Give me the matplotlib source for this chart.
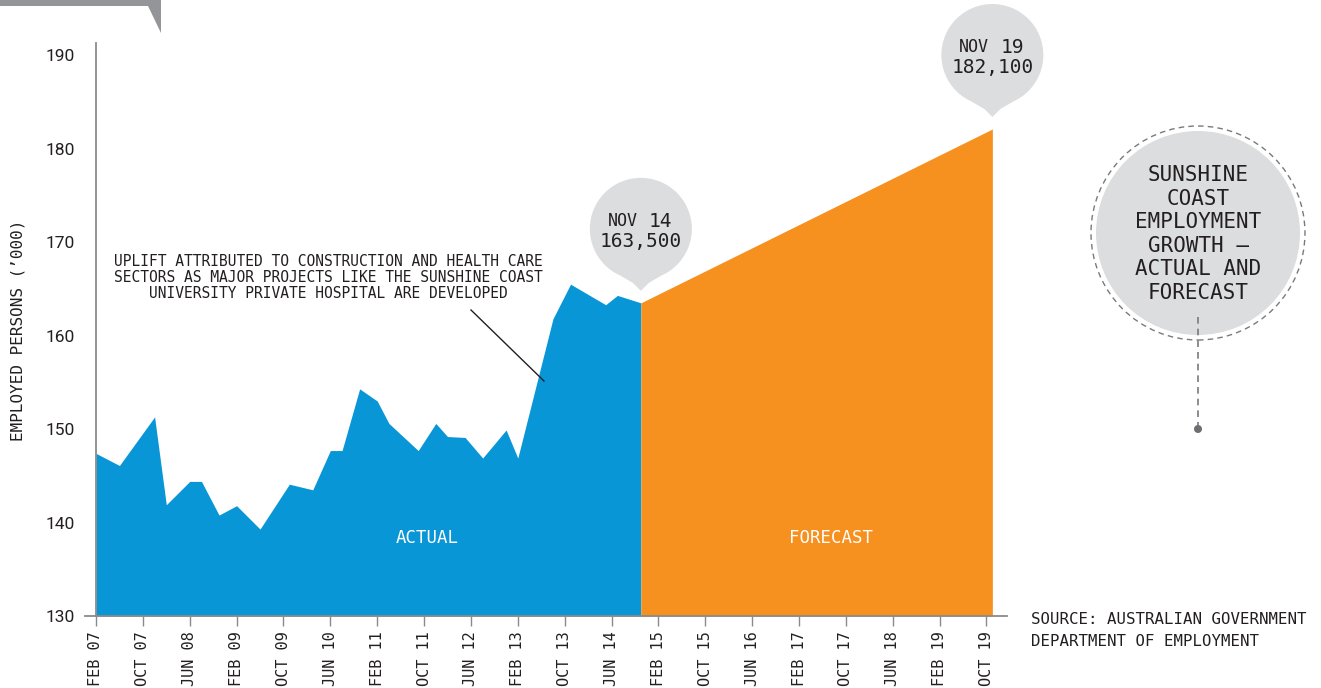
import matplotlib
matplotlib.use("Agg")
import matplotlib.pyplot as plt
from matplotlib.patches import Circle, Polygon
from matplotlib.lines import Line2D
from matplotlib.transforms import IdentityTransform

# months counted from Feb 2007, values in '000 employed persons
actual_months = [0, 4, 10, 12, 16, 18, 21, 24, 28, 33, 37, 40, 42, 45, 48, 50,
                 55, 58, 60, 63, 66, 70, 72, 78, 81, 87, 89, 93]
actual_values = [147.4, 146.1, 151.3, 141.9, 144.4, 144.4, 140.8, 141.8, 139.3,
                 144.1, 143.5, 147.7, 147.7, 154.3, 153.0, 150.6, 147.7, 150.6,
                 149.2, 149.1, 146.9, 149.9, 146.9, 161.8, 165.5, 163.3, 164.3,
                 163.5]
forecast_months = [93, 153]
forecast_values = [163.5, 182.1]

tick_months = list(range(0, 153, 8))
tick_labels = ["FEB 07", "OCT 07", "JUN 08", "FEB 09", "OCT 09", "JUN 10",
               "FEB 11", "OCT 11", "JUN 12", "FEB 13", "OCT 13", "JUN 14",
               "FEB 15", "OCT 15", "JUN 16", "FEB 17", "OCT 17", "JUN 18",
               "FEB 19", "OCT 19"]
y_ticks = [130, 140, 150, 160, 170, 180, 190]

note_lines = ["UPLIFT ATTRIBUTED TO CONSTRUCTION AND HEALTH CARE",
              "SECTORS AS MAJOR PROJECTS LIKE THE SUNSHINE COAST",
              "UNIVERSITY PRIVATE HOSPITAL ARE DEVELOPED"]
title_lines = ["SUNSHINE", "COAST", "EMPLOYMENT", "GROWTH \u2013",
               "ACTUAL AND", "FORECAST"]
source_lines = ["SOURCE: AUSTRALIAN GOVERNMENT", "DEPARTMENT OF EMPLOYMENT"]

BLUE = "#0996d6"
ORANGE = "#f6901e"
BUBBLE = "#dcddde"
AXIS = "#8a8a8a"
INK = "#231f20"
MONO = "DejaVu Sans Mono"

W, H = 1321, 688
PX = IdentityTransform()

fig = plt.figure(figsize=(W / 100, H / 100), dpi=100)
ax = fig.add_axes([96 / W, 72 / H, 911 / W, 573 / H])

ax.fill_between(actual_months, actual_values, 130, color=BLUE, lw=0)
ax.fill_between(forecast_months, forecast_values, 130, color=ORANGE, lw=0)

ax.set_xlim(0, 155.5)
ax.set_ylim(130, 191.3)

for s in ["top", "right"]:
    ax.spines[s].set_visible(False)
for s in ["left", "bottom"]:
    ax.spines[s].set_color(AXIS)
    ax.spines[s].set_linewidth(1.3)
ax.plot([-1.8, 0], [130, 130], color=AXIS, lw=1.3, clip_on=False)

ax.set_xticks(tick_months)
ax.set_xticklabels(tick_labels, rotation=90, fontsize=11, family=MONO, color=INK)
ax.set_yticks(y_ticks)
ax.set_yticklabels([str(v) for v in y_ticks], fontsize=12.5, family="Roboto",
                   color=INK)
ax.tick_params(axis="x", length=7, width=1, color=AXIS, pad=4)
ax.tick_params(axis="y", length=0, pad=15)

fig.text(18 / W, 1 - 330 / H, "EMPLOYED PERSONS (\u2019000)", rotation=90,
         ha="center", va="center", fontsize=11.5, family=MONO, color=INK)

# area labels
ax.text(56.5, 138.3, "ACTUAL", color="white", fontsize=12.5, family=MONO,
        ha="center", va="center")
ax.text(125.5, 138.3, "FORECAST", color="white", fontsize=12.5, family=MONO,
        ha="center", va="center")

# note with leader line
for i, line in enumerate(note_lines):
    fig.text(328, H - 261 - 16 * i, line, transform=PX, ha="center", va="center",
             fontsize=10.5, family=MONO, color=INK)
fig.add_artist(Line2D([471, 544], [H - 310, H - 381], transform=PX,
                      color=INK, lw=1))


def bubble(month, value, mon, yr, amount):
    tx, ty = ax.transData.transform((month, value))
    ty += 12
    cx, cy, r = tx, ty + 62, 51
    fig.add_artist(Circle((cx, cy), r, transform=PX, fc=BUBBLE, ec="none"))
    fig.add_artist(Polygon([(cx - 20, cy - 47), (cx - 8, cy - 54), (tx, ty),
                            (cx + 8, cy - 54), (cx + 20, cy - 47)],
                           closed=True, transform=PX, fc=BUBBLE, ec="none"))
    fig.text(cx - 3, cy + 7.5, mon, transform=PX, ha="right", va="center",
             fontsize=12, family=MONO, color=INK)
    fig.text(cx + 8, cy + 7.5, yr, transform=PX, ha="left", va="center",
             fontsize=14, family=MONO, color=INK)
    fig.text(cx, cy - 12.5, amount, transform=PX, ha="center", va="center",
             fontsize=14, family=MONO, color=INK)


bubble(actual_months[-1], actual_values[-1], "NOV", "14",
       f"{actual_values[-1] * 1000:,.0f}")
bubble(forecast_months[-1], forecast_values[-1], "NOV", "19",
       f"{forecast_values[-1] * 1000:,.0f}")

# title disc on the right
cx, cy = 1198, H - 233
fig.add_artist(Circle((cx, cy), 102, transform=PX, fc=BUBBLE, ec="none"))
fig.add_artist(Circle((cx, cy), 107, transform=PX, fc="none", ec="#7a7a7a",
                      lw=1, linestyle=(0, (4, 3))))
for i, line in enumerate(title_lines):
    fig.text(cx, H - 175 - 23.6 * i, line, transform=PX, ha="center",
             va="center", fontsize=15, family=MONO, color=INK)
fig.add_artist(Line2D([cx, cx], [H - 317, H - 425], transform=PX,
                      color="#7a7a7a", lw=1.2, linestyle=(0, (4, 3))))
fig.add_artist(Circle((cx, H - 429), 4, transform=PX, fc="#6d6e71", ec="none"))

for i, line in enumerate(source_lines):
    fig.text(1031, H - 620 - 21 * i, line, transform=PX, ha="left", va="center",
             fontsize=11.3, family=MONO, color=INK)

# grey tab in the top-left corner
fig.add_artist(Polygon([(0, H), (161, H), (161, H - 33), (148, H - 6), (0, H - 6)],
                       closed=True, transform=PX, fc="#939598", ec="none"))

fig.savefig("out.png", dpi=100)
